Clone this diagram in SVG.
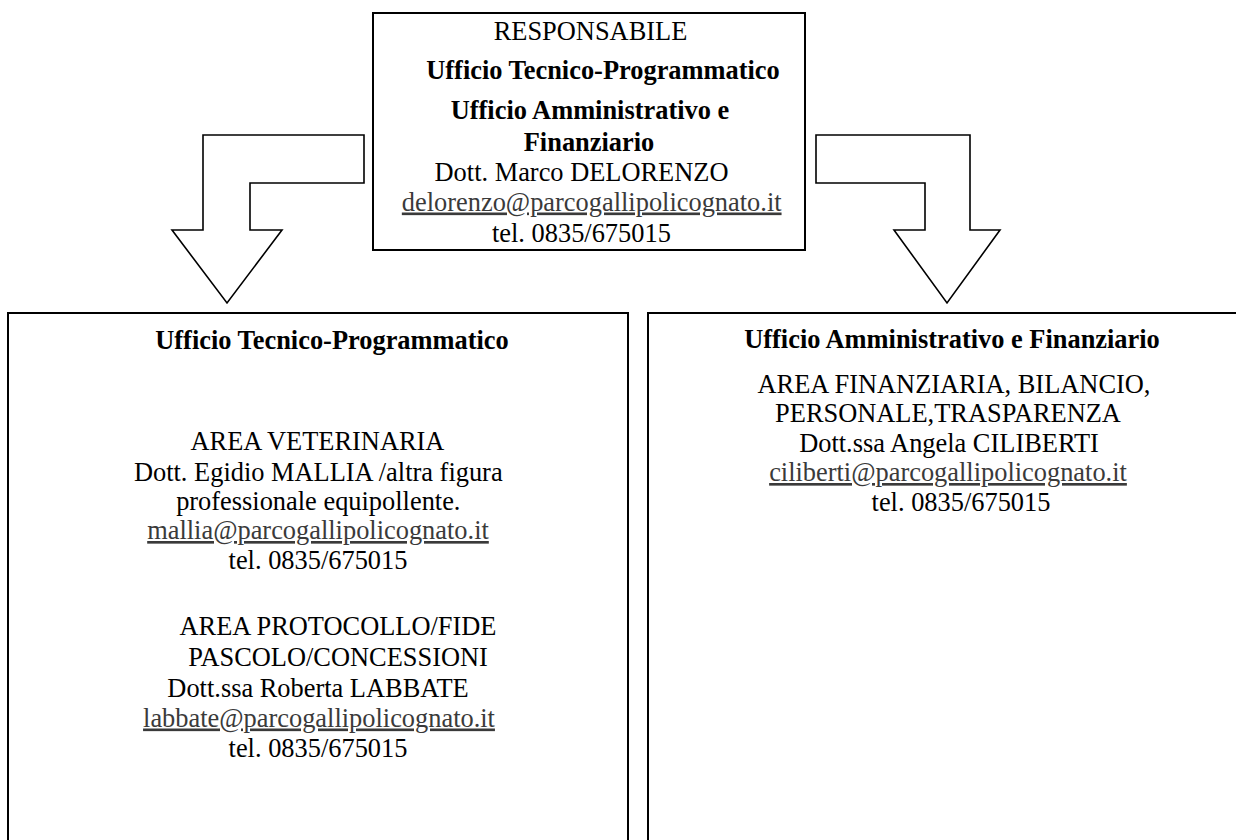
<svg xmlns="http://www.w3.org/2000/svg" width="1236" height="840" viewBox="0 0 1236 840">
<style>
  text { font-family: "Liberation Serif", "Times New Roman", serif; font-size: 26.4px; fill: #000; text-anchor: middle; }
  .b { font-weight: bold; }
  .mail { fill: #3a3a3a; text-decoration: underline; }
  .box { fill: #fff; stroke: #000; stroke-width: 2; }
  .arrow { fill: #fff; stroke: #000; stroke-width: 1.6; stroke-linejoin: miter; }
</style>
<rect width="1236" height="840" fill="#fff"/>
<g id="connectors">
  <path class="arrow" d="M364,135 L203,135 L203,230 L172,230 L227,303 L282,230 L250,230 L250,183 L364,183 Z"/>
  <path class="arrow" d="M816,135 L970,135 L970,230 L1000,230 L947,303 L894,230 L925,230 L925,183 L816,183 Z"/>
</g>
<g id="responsabile">
  <rect class="box" x="373" y="13" width="432" height="237"/>
  <text x="590.5" y="40">RESPONSABILE</text>
  <text class="b" x="603" y="79">Ufficio Tecnico-Programmatico</text>
  <text class="b" x="590" y="119">Ufficio Amministrativo e</text>
  <text class="b" x="589" y="150.5">Finanziario</text>
  <text x="581.5" y="180.5">Dott. Marco DELORENZO</text>
  <text class="mail" x="591.7" y="210.5">delorenzo@parcogallipolicognato.it</text>
  <text x="581.4" y="241.5">tel. 0835/675015</text>
</g>
<g id="ufficio-tecnico">
  <rect class="box" x="8" y="313" width="620" height="540"/>
  <text class="b" x="332" y="349">Ufficio Tecnico-Programmatico</text>
  <text x="317.5" y="450">AREA VETERINARIA</text>
  <text x="318.3" y="480.5">Dott. Egidio MALLIA /altra figura</text>
  <text x="318.3" y="510">professionale equipollente.</text>
  <text class="mail" x="318" y="539">mallia@parcogallipolicognato.it</text>
  <text x="318" y="569">tel. 0835/675015</text>
  <text x="338" y="635">AREA PROTOCOLLO/FIDE</text>
  <text x="338" y="665.5">PASCOLO/CONCESSIONI</text>
  <text x="318" y="696.5">Dott.ssa Roberta LABBATE</text>
  <text class="mail" x="319" y="726.5">labbate@parcogallipolicognato.it</text>
  <text x="318" y="756.5">tel. 0835/675015</text>
</g>
<g id="ufficio-amministrativo">
  <rect class="box" x="648" y="313" width="620" height="540"/>
  <text class="b" x="952" y="348">Ufficio Amministrativo e Finanziario</text>
  <text x="954" y="392.5">AREA FINANZIARIA, BILANCIO,</text>
  <text x="948" y="421.5">PERSONALE,TRASPARENZA</text>
  <text x="949" y="451.5">Dott.ssa Angela CILIBERTI</text>
  <text class="mail" x="948" y="481">ciliberti@parcogallipolicognato.it</text>
  <text x="961" y="511">tel. 0835/675015</text>
</g>
</svg>
